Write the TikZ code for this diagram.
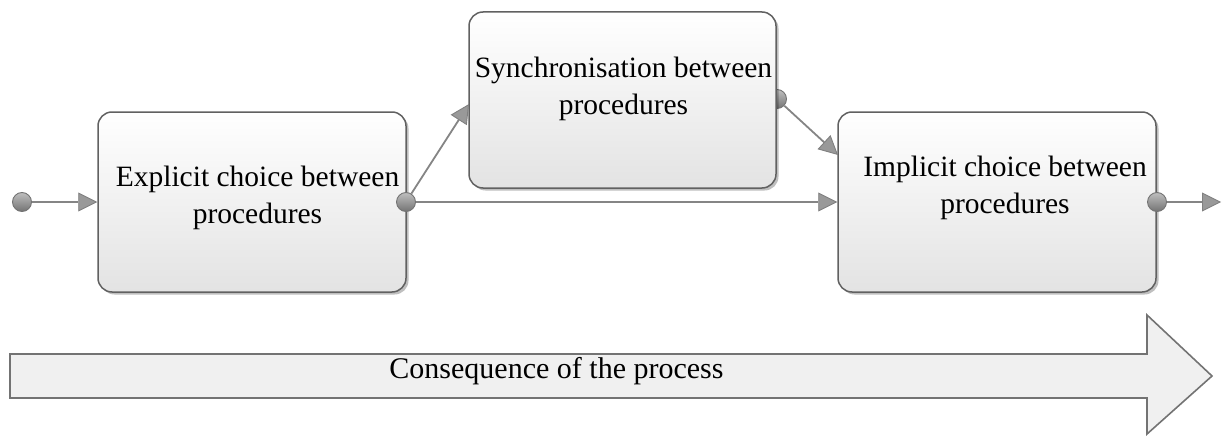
\documentclass[tikz,border=0pt]{standalone}
\usepackage{fontspec}
\setmainfont{Liberation Serif}
\usetikzlibrary{arrows.meta,shadows}
\begin{document}
\begin{tikzpicture}[x=1pt,y=-1pt,
  procbox/.style={draw=black!62, line width=1.5pt, rounded corners=14pt,
    top color=white, bottom color=black!11, inner sep=0pt,
    drop shadow={shadow xshift=2.5pt, shadow yshift=-2.5pt, opacity=0.25, fill=black}},
  boxtext/.style={align=center, inner sep=0pt, font=\fontsize{29.5}{37}\selectfont},
  port/.style={circle, draw=black!55, line width=0.9pt, minimum size=19pt, inner sep=0pt,
    top color=black!25, bottom color=black!55},
  conn/.style={draw=black!48, line width=1.8pt,
    -{Triangle[length=19pt,width=19pt,fill=black!40,color=black!50,line width=0.9pt]}},
  bigarrow/.style={draw=black!55, line width=1.6pt, fill=black!6, line join=miter}
]
\useasboundingbox (0,0) rectangle (1223,436);

% port hidden half behind the middle box
\node[port] (p2) at (777,99) {};

% process boxes
\node[procbox, minimum width=308pt, minimum height=180pt] (b1) at (252,202) {};
\node[procbox, minimum width=307pt, minimum height=176pt] (b2) at (622.5,100) {};
\node[procbox, minimum width=318pt, minimum height=180pt] (b3) at (997,202) {};

\node[boxtext] (t1) at (257.5,197.5) {Explicit choice between\\procedures};
\node[boxtext] (t2) at (623.5,89) {Synchronisation between\\procedures};
\node[boxtext] (t3) at (1005,187.5) {Implicit choice between\\procedures};

% connection points
\coordinate (b2in) at (469,104);
\coordinate (b3in) at (838,155);
\coordinate (out) at (1221,202);

% ports
\node[port] (p0) at (22,202) {};
\node[port] (p1) at (406,202) {};
\node[port] (p3) at (1157,202) {};

% connectors
\draw[conn] (p0) -- (b1.west);
\draw[conn] (p1) -- (b2in);
\draw[conn] (p1) -- (b3.west);
\draw[conn] (p2) -- (b3in);
\draw[conn] (p3) -- (out);

% process direction arrow
\draw[bigarrow] (10,354) -- (1147,354) -- (1147,315) -- (1212,376)
  -- (1147,434) -- (1147,398) -- (10,398) -- cycle;
\node[boxtext, font=\fontsize{30}{36}\selectfont] (t4) at (556.5,371) {Consequence of the process};
\end{tikzpicture}
\end{document}
